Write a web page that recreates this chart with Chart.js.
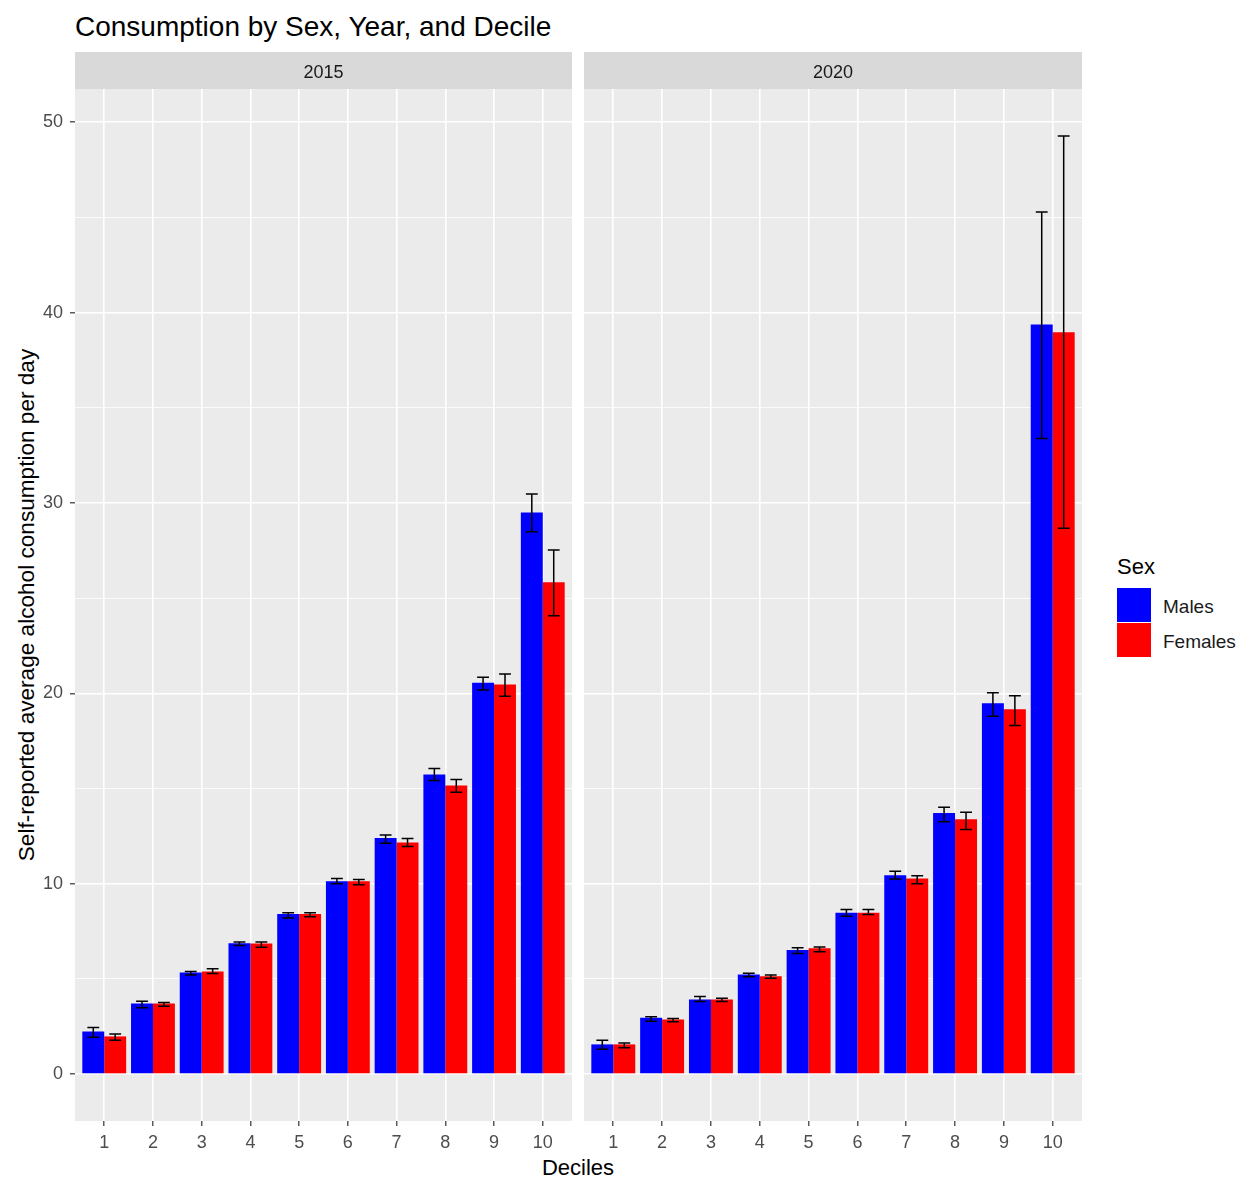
<!DOCTYPE html>
<html>
<head>
<meta charset="UTF-8">
<title>Consumption by Sex, Year, and Decile</title>
<script src="https://cdn.jsdelivr.net/npm/chart.js"></script>
<style>
body{margin:0; background:#fff; font-family:"Liberation Sans", Arial, sans-serif;}
#wrap{position:relative; width:1240px; height:1178px;}
.box{position:absolute;}
.txt{position:absolute; white-space:nowrap; color:#000;}
</style>
</head>
<body>
<div id="wrap">
	<div class="txt" style="left:75px; top:11px; font-size:28px;">Consumption by Sex, Year, and Decile</div>
	<div class="txt" style="left:27px; top:605px; font-size:22.6px; transform:translate(-50%,-50%) rotate(-90deg);">Self-reported average alcohol consumption per day</div>
	<div class="txt" style="left:578px; top:1168px; font-size:22px; transform:translate(-50%,-50%);">Deciles</div>

	<div class="box" style="left:0px; top:52px; width:572px; height:1110px;"><canvas id="c2015"></canvas></div>
	<div class="box" style="left:584px; top:52px; width:498px; height:1110px;"><canvas id="c2020"></canvas></div>

	<div class="txt" style="left:1117px; top:554px; font-size:22px; color:#000;">Sex</div>
	<div class="box" style="left:1117px; top:588px; width:34px; height:34px; background:#0000FF;"></div>
	<div class="box" style="left:1117px; top:623px; width:34px; height:34px; background:#FF0000;"></div>
	<div class="txt" style="left:1163px; top:596px; font-size:19px; color:#1A1A1A;">Males</div>
	<div class="txt" style="left:1163px; top:631px; font-size:19px; color:#1A1A1A;">Females</div>
</div>
<script>
// data
var deciles = [1,2,3,4,5,6,7,8,9,10];
var yTicks = [0,5,10,15,20,25,30,35,40,45,50];

var m2015   = [2.24, 3.71, 5.33, 6.87, 8.41, 10.13, 12.40, 15.74, 20.55, 29.50];
var m2015Lo = [1.93, 3.48, 5.21, 6.75, 8.20, 10.00, 12.12, 15.42, 20.18, 28.49];
var m2015Hi = [2.45, 3.83, 5.39, 6.94, 8.48, 10.27, 12.56, 16.05, 20.85, 30.47];
var f2015   = [1.98, 3.71, 5.39, 6.86, 8.41, 10.13, 12.16, 15.16, 20.46, 25.83];
var f2015Lo = [1.78, 3.57, 5.28, 6.66, 8.27, 9.95, 11.96, 14.80, 19.85, 24.08];
var f2015Hi = [2.10, 3.76, 5.53, 6.94, 8.48, 10.22, 12.38, 15.48, 21.02, 27.53];

var m2020   = [1.56, 2.96, 3.92, 5.23, 6.52, 8.48, 10.44, 13.71, 19.48, 39.37];
var m2020Lo = [1.30, 2.77, 3.81, 5.11, 6.33, 8.29, 10.25, 13.26, 18.80, 33.38];
var m2020Hi = [1.78, 3.01, 4.08, 5.30, 6.63, 8.64, 10.65, 14.01, 20.03, 45.28];
var f2020   = [1.56, 2.87, 3.92, 5.14, 6.61, 8.48, 10.28, 13.38, 19.17, 38.97];
var f2020Lo = [1.38, 2.75, 3.81, 5.04, 6.42, 8.38, 10.00, 12.85, 18.31, 28.67];
var f2020Hi = [1.63, 2.92, 3.99, 5.21, 6.68, 8.64, 10.42, 13.75, 19.87, 49.28];

var FONT = '"Liberation Sans", Arial, sans-serif';

// grey panel + strip on top
var panelPlugin = {
	id: 'panel',
	beforeDraw: function(chart){
		var a = chart.chartArea, ctx = chart.ctx;
		ctx.save();
		ctx.fillStyle = '#EBEBEB';
		ctx.fillRect(a.left, a.top, a.right - a.left, a.bottom - a.top);
		ctx.fillStyle = '#D9D9D9';
		ctx.fillRect(a.left, a.top - 37, a.right - a.left, 37);
		ctx.fillStyle = '#1A1A1A';
		ctx.font = '18px ' + FONT;
		ctx.textAlign = 'center';
		ctx.textBaseline = 'middle';
		ctx.fillText(chart.options.plugins.panel.strip, (a.left + a.right) / 2, a.top - 16);
		ctx.restore();
	}
};

// error bars
var errPlugin = {
	id: 'errbars',
	afterDatasetsDraw: function(chart){
		var ctx = chart.ctx, ys = chart.scales.y;
		ctx.save();
		ctx.strokeStyle = '#000';
		ctx.lineWidth = 1.5;
		chart.data.datasets.forEach(function(ds, di){
			var meta = chart.getDatasetMeta(di);
			meta.data.forEach(function(bar, i){
				var x = bar.x, cap = bar.width * 0.27;
				var y1 = ys.getPixelForValue(ds.lo[i]), y2 = ys.getPixelForValue(ds.hi[i]);
				ctx.beginPath();
				ctx.moveTo(x, y1); ctx.lineTo(x, y2);
				ctx.moveTo(x - cap, y1); ctx.lineTo(x + cap, y1);
				ctx.moveTo(x - cap, y2); ctx.lineTo(x + cap, y2);
				ctx.stroke();
			});
		});
		ctx.restore();
	}
};

function pts(vals){
	return deciles.map(function(d, i){ return {x: d, y: vals[i]}; });
}

function makeChart(id, year, m, mLo, mHi, f, fLo, fHi, first){
	new Chart(document.getElementById(id), {
		type: 'bar',
		data: {
			datasets: [
				{label: 'Males', data: pts(m), lo: mLo, hi: mHi, backgroundColor: '#0000FF', borderWidth: 0},
				{label: 'Females', data: pts(f), lo: fLo, hi: fHi, backgroundColor: '#FF0000', borderWidth: 0}
			]
		},
		options: {
			responsive: true,
			maintainAspectRatio: false,
			animation: false,
			layout: {padding: {top: 37, left: 0, right: 0, bottom: 0}},
			datasets: {bar: {categoryPercentage: 0.9, barPercentage: 1.0}},
			plugins: {legend: {display: false}, tooltip: {enabled: false}, panel: {strip: year}},
			scales: {
				x: {
					type: 'linear',
					min: 0.4, max: 10.6,
					offset: false,
					afterBuildTicks: function(s){ s.ticks = deciles.map(function(v){ return {value: v}; }); },
					afterFit: function(s){ s.height = 41; },
					border: {display: false},
					grid: {offset: false, color: '#FFFFFF', lineWidth: 1.6, tickColor: '#333333', tickLength: 5, tickWidth: 1.2},
					ticks: {color: '#4D4D4D', font: {family: FONT, size: 18}, padding: 6, maxRotation: 0,
						callback: function(v){ return String(v); }}
				},
				y: {
					min: -2.464, max: 51.744,
					afterBuildTicks: function(s){ s.ticks = yTicks.map(function(v){ return {value: v}; }); },
					afterFit: function(s){ s.width = first ? 75 : 0; },
					border: {display: false},
					grid: {
						color: '#FFFFFF',
						lineWidth: function(c){ return c.tick && c.tick.value % 10 === 0 ? 1.6 : 0.8; },
						drawTicks: first,
						tickColor: function(c){ return c.tick && c.tick.value % 10 === 0 ? '#333333' : 'rgba(0,0,0,0)'; },
						tickLength: 5, tickWidth: 1.2
					},
					ticks: {display: first, color: '#4D4D4D', font: {family: FONT, size: 18}, padding: 7,
						callback: function(v){ return v % 10 === 0 ? String(v) : ''; }}
				}
			}
		},
		plugins: [panelPlugin, errPlugin]
	});
}

makeChart('c2015', '2015', m2015, m2015Lo, m2015Hi, f2015, f2015Lo, f2015Hi, true);
makeChart('c2020', '2020', m2020, m2020Lo, m2020Hi, f2020, f2020Lo, f2020Hi, false);
</script>
</body>
</html>
